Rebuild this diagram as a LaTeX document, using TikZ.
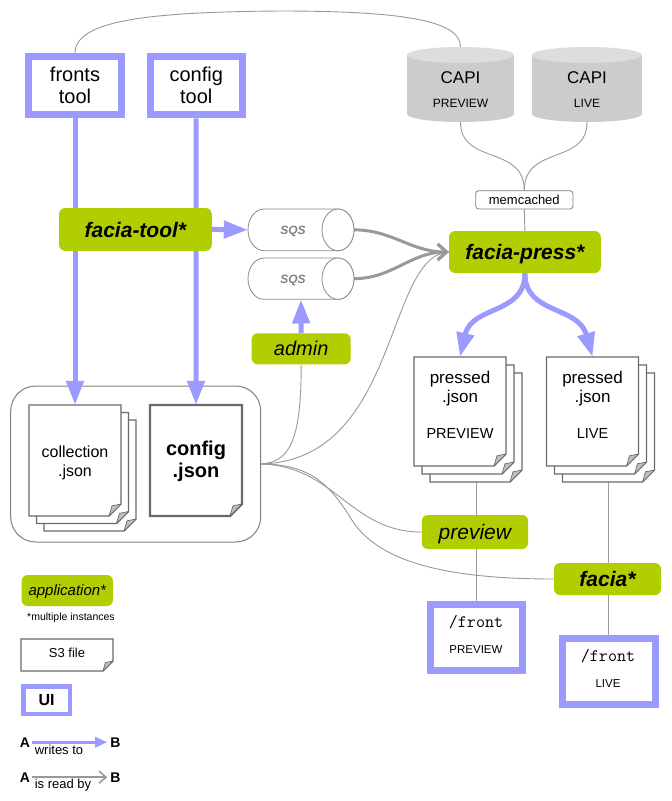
\documentclass[tikz,border=0pt]{standalone}
\usepackage{fontspec}
\setmainfont{Liberation Sans}
\usetikzlibrary{arrows.meta}

\pgfdeclarelayer{back}
\pgfdeclarelayer{wires}
\pgfsetlayers{back,wires,main}

\definecolor{uiblue}{RGB}{155,155,255}
\definecolor{appgreen}{RGB}{176,206,0}
\definecolor{wirec}{RGB}{153,153,153}
\definecolor{edgec}{RGB}{105,105,105}
\definecolor{drumbody}{RGB}{204,204,204}
\definecolor{drumtop}{RGB}{221,221,221}
\definecolor{foldgray}{RGB}{190,190,190}
\definecolor{sqstext}{RGB}{128,128,128}

\newcommand\fsz[2]{\fontsize{#1}{#2}\selectfont}

% one sheet of paper with a folded bottom-right corner
% #1 left, #2 top, #3 right, #4 bottom (pixels, y downwards), #5 style, #6 corner size
\newcommand\docsheet[6]{%
  \draw[#5] ({#1},{-(#2)}) -- ({#3},{-(#2)}) -- ({#3},{#6-(#4)}) -- ({#3-#6},{-(#4)}) -- ({#1},{-(#4)}) -- cycle;
  \draw[foldtri] ({#3},{#6-(#4)}) -- ({#3-#6},{-(#4)}) -- ({#3-0.75*#6},{0.85*#6-(#4)}) -- cycle;}

% a pile of three sheets, each offset by #5
\newcommand\docpile[5]{%
  \docsheet{#1+2*#5}{#2+2*#5}{#3+2*#5}{#4+2*#5}{sheet}{12}%
  \docsheet{#1+#5}{#2+#5}{#3+#5}{#4+#5}{sheet}{12}%
  \docsheet{#1}{#2}{#3}{#4}{sheet}{12}}

% upright storage drum
\newcommand\drum[4]{%
  \fill[drumbody] ({#1},{-(#2)-8}) -- ({#1},{8-(#4)})
     arc[start angle=180,end angle=360,x radius={(#3-#1)/2},y radius=8]
     -- ({#3},{-(#2)-8}) -- cycle;
  \fill[drumtop] ({(#1+#3)/2},{-(#2)-8}) ellipse[x radius={(#3-#1)/2},y radius=8];}

% queue drawn as a lying cylinder
\newcommand\tube[4]{%
  \draw[tubeline] ({#3-16},{-(#2)}) -- ({#1+16},{-(#2)})
     arc[start angle=90,end angle=270,x radius=16,y radius={(#4-#2)/2}]
     -- ({#3-16},{-(#4)})
     arc[start angle=-90,end angle=90,x radius=16,y radius={(#4-#2)/2}] -- cycle;
  \draw[tubeline] ({#3-16},{-(#2+#4)/2}) ellipse[x radius=16,y radius={(#4-#2)/2}];}

\begin{document}
\begin{tikzpicture}[x=1pt,y=1pt,
  uibox/.style={draw=uiblue, line width=7pt, fill=white, inner sep=0pt, align=center, font=\fsz{20}{22}},
  app/.style={fill=appgreen, rounded corners=6pt, inner sep=0pt, text depth=0pt, text height=14pt},
  appbi/.style={app, font=\bfseries\itshape\fsz{21}{24}},
  appi/.style={app, font=\itshape\fsz{21}{24}},
  lbl/.style={anchor=base, inner sep=0pt},
  area/.style={inner sep=0pt, draw=none},
  sheet/.style={draw=edgec, line width=1.1pt, fill=white},
  boldsheet/.style={draw=edgec, line width=2.4pt, fill=white},
  foldtri/.style={draw=edgec, line width=0.7pt, fill=foldgray, line join=round},
  tubeline/.style={draw=wirec!90!black, line width=0.8pt, fill=white},
  wire/.style={draw=wirec, line width=0.9pt},
  writes/.style={draw=uiblue, line width=5pt, -{Triangle[length=24pt,width=17pt]}},
  reads/.style={draw=wirec, line width=3pt, -{Straight Barb[length=9pt,width=16pt]}},
]
\begin{pgfonlayer}{back}
  \fill[white] (0,0) rectangle (672,-801);
  \node[area, draw=gray, line width=1pt, rounded corners=25pt,
        minimum width=250pt, minimum height=156pt] (s3) at (135.7,-464) {};
\end{pgfonlayer}
\useasboundingbox (0,0) rectangle (672,-801);

% ---------- editing tools ----------
\node[uibox, minimum width=92.3pt, minimum height=58pt] (fronts) at (75,-85.8) {fronts\\tool};
\node[uibox, minimum width=92.3pt, minimum height=58pt] (cfg) at (196.2,-85.8) {config\\tool};

% ---------- content API ----------
\drum{407}{47}{514}{122}
\drum{532}{47}{642}{122}
\node[area, minimum width=107pt, minimum height=75pt] (capip) at (460.5,-84.5) {};
\node[area, minimum width=110pt, minimum height=75pt] (capil) at (587,-84.5) {};
\node[lbl, font=\fsz{17}{20}] (capipA) at (460.5,-83) {CAPI};
\node[lbl, font=\fsz{12}{14}] (capipB) at (460.5,-107) {PREVIEW};
\node[lbl, font=\fsz{17}{20}] (capilA) at (587,-83) {CAPI};
\node[lbl, font=\fsz{12}{14}] (capilB) at (587,-107) {LIVE};

\node[draw=gray, line width=0.8pt, fill=white, rounded corners=3pt, inner sep=0pt,
      minimum width=97.3pt, minimum height=18.3pt, font=\fsz{13}{15}] (mc) at (524.3,-199.8) {memcached};

% ---------- applications ----------
\node[appbi, minimum width=152.7pt, minimum height=42.7pt, text height=15.2pt] (ftool) at (135.4,-229.4) {facia-tool*};
\node[appbi, minimum width=151.7pt, minimum height=42pt] (fp) at (524.9,-252) {facia-press*};
\node[appi, font=\itshape\fsz{20}{22}, minimum width=99pt, minimum height=31pt, text height=12.4pt] (admin) at (301.2,-348.8) {admin};
\node[appi, minimum width=106.3pt, minimum height=34pt] (pv) at (474.9,-532) {preview};
\node[appbi, minimum width=107pt, minimum height=32pt] (fa) at (607.5,-579) {facia*};

% ---------- queues ----------
\tube{248}{209}{354}{250.7}
\tube{248}{258}{354}{299.3}
\node[area, minimum width=106pt, minimum height=41.7pt] (sqs1) at (301,-229.85) {};
\node[area, minimum width=106pt, minimum height=41.3pt] (sqs2) at (301,-278.65) {};
\node[lbl, text=sqstext, font=\bfseries\itshape\fsz{12}{14}] (sqs1t) at (293,-234) {SQS};
\node[lbl, text=sqstext, font=\bfseries\itshape\fsz{12}{14}] (sqs2t) at (293,-283) {SQS};

% ---------- S3 files ----------
\docpile{29}{405}{121}{516}{7.5}
\node[area, minimum width=92pt, minimum height=111pt] (coll) at (75,-460.5) {};
\node[lbl, font=\fsz{16}{19}] (collA) at (75,-457) {collection};
\node[lbl, font=\fsz{16}{19}] (collB) at (75,-476) {.json};

\docsheet{150}{405}{242}{516}{boldsheet}{12}
\node[area, minimum width=92pt, minimum height=111pt] (cjson) at (196,-460.5) {};
\node[lbl, font=\bfseries\fsz{20}{22}] (cjsonA) at (196,-455) {config};
\node[lbl, font=\bfseries\fsz{20}{22}] (cjsonB) at (196,-477) {.json};

\docpile{414}{357}{506}{466}{8}
\node[area, minimum width=92pt, minimum height=109pt] (ppv) at (460,-411.5) {};
\node[lbl, font=\fsz{17}{19}] (ppvA) at (460,-383) {pressed};
\node[lbl, font=\fsz{17}{19}] (ppvB) at (460,-402) {.json};
\node[lbl, font=\fsz{14.5}{17}] (ppvC) at (460,-438) {PREVIEW};

\docpile{546.5}{357}{638.5}{466}{8}
\node[area, minimum width=92pt, minimum height=109pt] (ppl) at (592.5,-411.5) {};
\node[lbl, font=\fsz{17}{19}] (pplA) at (592.5,-383) {pressed};
\node[lbl, font=\fsz{17}{19}] (pplB) at (592.5,-402) {.json};
\node[lbl, font=\fsz{14.5}{17}] (pplC) at (592.5,-438) {LIVE};

% ---------- front pages ----------
\node[uibox, minimum width=92pt, minimum height=66pt] (fpv) at (476,-637.5) {};
\node[lbl, font=\ttfamily\fsz{17.5}{20}] (fpvA) at (476,-627) {/front};
\node[lbl, font=\fsz{11.5}{13}] (fpvB) at (476,-653) {PREVIEW};
\node[uibox, minimum width=93pt, minimum height=66pt] (fl) at (608.5,-671.5) {};
\node[lbl, font=\ttfamily\fsz{17.5}{20}] (flA) at (608,-661) {/front};
\node[lbl, font=\fsz{11.5}{13}] (flB) at (608,-687) {LIVE};

% ---------- legend ----------
\node[app, font=\itshape\fsz{15}{17}, minimum width=91.3pt, minimum height=31pt, text height=9.5pt] (kapp) at (67.3,-590.5) {application*};
\node[lbl, font=\fsz{10.5}{12}] (kmulti) at (71,-620) {*multiple instances};
\docsheet{21}{639}{113}{671}{sheet}{10}
\node[area, minimum width=92pt, minimum height=32pt] (ks3) at (67,-655) {};
\node[lbl, font=\fsz{13}{15}] (ks3t) at (67,-657) {S3 file};
\node[uibox, line width=4.5pt, minimum width=46.5pt, minimum height=27.5pt, font=\bfseries\fsz{16}{18}] (kui) at (46.5,-700) {UI};

\node[lbl, font=\bfseries\fsz{14}{16}] (ka1) at (25,-747) {A};
\node[lbl, font=\bfseries\fsz{14}{16}] (kb1) at (115.5,-747) {B};
\node[lbl, font=\fsz{13}{15}] (kw) at (59,-754) {writes to};
\node[lbl, font=\bfseries\fsz{14}{16}] (ka2) at (25,-782) {A};
\node[lbl, font=\bfseries\fsz{14}{16}] (kb2) at (115.5,-782) {B};
\node[lbl, font=\fsz{13}{15}] (kr) at (63,-788) {is read by};

% ---------- connectors ----------
\begin{pgfonlayer}{wires}
  % reads
  \draw[wire] (fronts.north) .. controls (75,-20) and (150,-12) .. (280,-11)
              .. controls (410,-11) and (460.5,-22) .. (capip.north);
  \draw[wire] (capip.south) .. controls (460.5,-165) and (524.3,-145) .. (mc.north);
  \draw[wire] (capil.south) .. controls (587,-165) and (524.3,-145) .. (mc.north);
  \draw[wire] (mc.south) -- (fp.north);
  \draw[wire] (s3.east) .. controls (290,-462) and (301.2,-440) .. (admin.south);
  \draw[wire] (s3.east) .. controls (400,-460) and (385,-255) .. (fp.west);
  \draw[wire] (s3.east) .. controls (335,-466) and (350,-532) .. (pv.west);
  \draw[wire] (s3.east) .. controls (310,-464) and (330,-485) .. (350,-517)
              .. controls (375,-560) and (440,-579) .. (fa.west);
  \draw[wire] ([shift={(16,-16)}]ppv.south) -- (fpv.north);
  \draw[wire] ([shift={(16,-16)}]ppl.south) -- (fl.north);
  \draw[reads] (sqs1.east) to[out=0,in=180] (fp.west);
  \draw[reads] (sqs2.east) to[out=0,in=180] (fp.west);
  % writes
  \draw[writes] (fronts.south) -- (coll.north);
  \draw[writes] (cfg.south) -- (cjson.north);
  \draw[writes] (ftool.east) -- (sqs1.west);
  \draw[writes] (admin.north) -- (sqs2.south);
  \draw[writes] (fp.south) .. controls (525,-315) and (472,-305) .. (ppv.north);
  \draw[writes] (fp.south) .. controls (525,-315) and (578,-305) .. (ppl.north);
\end{pgfonlayer}

% legend arrows
\draw[draw=uiblue, line width=3.2pt, -{Triangle[length=12pt,width=10pt]},
      shorten <=2pt, shorten >=3pt] (ka1.east) -- (kb1.west);
\draw[draw=wirec, line width=1.6pt, -{Straight Barb[length=7pt,width=12pt]},
      shorten <=2pt, shorten >=3pt] (ka2.east) -- (kb2.west);
\end{tikzpicture}
\end{document}
